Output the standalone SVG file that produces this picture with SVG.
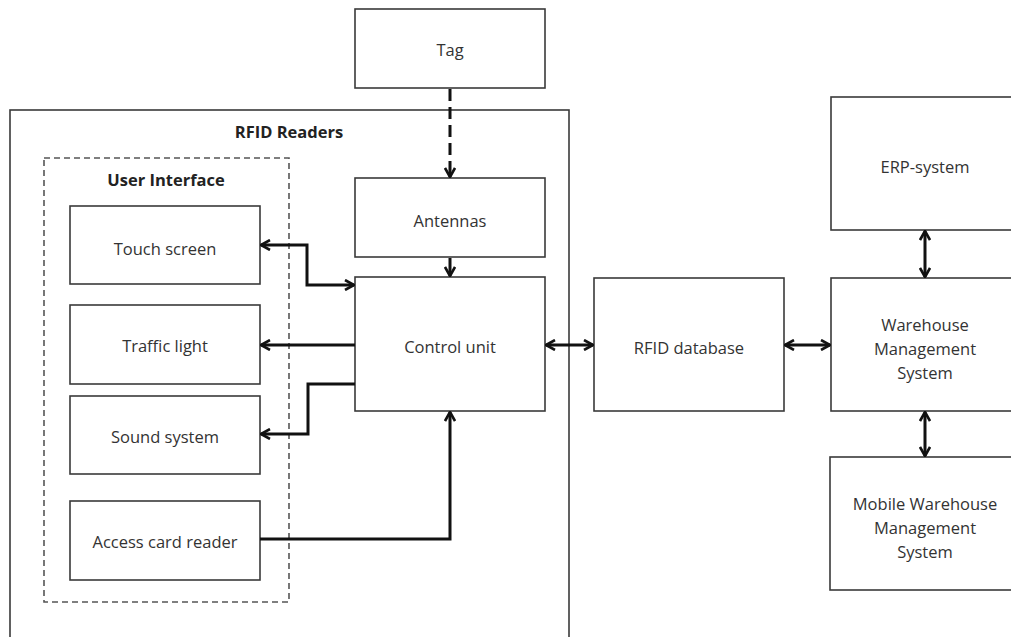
<svg xmlns="http://www.w3.org/2000/svg" width="1011" height="637" viewBox="0 0 1011 637">
  <style>
    .box { fill: #fff; stroke: #3a3a3a; stroke-width: 1.6; }
    .frame { fill: none; stroke: #3a3a3a; stroke-width: 1.6; }
    .dash { fill: none; stroke: #555; stroke-width: 1.6; stroke-dasharray: 6 4; }
    .lbl { font-family: "Open Sans", "Liberation Sans", sans-serif; font-size: 16.5px; fill: #333; text-anchor: middle; dominant-baseline: central; }
    .title { font-family: "Open Sans", "Liberation Sans", sans-serif; font-size: 16.5px; font-weight: bold; fill: #222; text-anchor: middle; dominant-baseline: central; }
    .wire { fill: none; stroke: #111; stroke-width: 3; stroke-linejoin: miter; }
    .wire-d { fill: none; stroke: #111; stroke-width: 3; stroke-dasharray: 12 6; }
  </style>
  <defs>
    <marker id="head" viewBox="0 0 12 12" refX="11" refY="6" markerWidth="12" markerHeight="12" markerUnits="userSpaceOnUse" orient="auto-start-reverse">
      <path d="M2,1 L11,6 L2,11" fill="none" stroke="#111" stroke-width="2.6"/>
    </marker>
  </defs>

  <rect width="1011" height="637" fill="#fff"/>

  <!-- RFID reader enclosure -->
  <g id="rfid-readers">
    <rect class="frame" x="10" y="110" width="559" height="560"/>
    <text class="title" x="289" y="131">RFID Readers</text>
  </g>

  <!-- user interface group -->
  <g id="user-interface">
    <rect class="dash" x="44" y="158" width="245" height="444"/>
    <text class="title" x="166" y="179">User Interface</text>
  </g>

  <g id="tag">
    <rect class="box" x="355" y="9" width="190" height="79"/>
    <text class="lbl" x="450" y="49">Tag</text>
  </g>
  <g id="antennas">
    <rect class="box" x="355" y="178" width="190" height="79"/>
    <text class="lbl" x="450" y="220">Antennas</text>
  </g>
  <g id="control-unit">
    <rect class="box" x="355" y="277" width="190" height="134"/>
    <text class="lbl" x="450" y="346">Control unit</text>
  </g>
  <g id="touch-screen">
    <rect class="box" x="70" y="206" width="190" height="78"/>
    <text class="lbl" x="165" y="248">Touch screen</text>
  </g>
  <g id="traffic-light">
    <rect class="box" x="70" y="305" width="190" height="79"/>
    <text class="lbl" x="165" y="345">Traffic light</text>
  </g>
  <g id="sound-system">
    <rect class="box" x="70" y="396" width="190" height="78"/>
    <text class="lbl" x="165" y="436">Sound system</text>
  </g>
  <g id="access-card-reader">
    <rect class="box" x="70" y="501" width="190" height="79"/>
    <text class="lbl" x="165" y="541">Access card reader</text>
  </g>
  <g id="rfid-database">
    <rect class="box" x="594" y="278" width="190" height="133"/>
    <text class="lbl" x="689" y="347">RFID database</text>
  </g>
  <g id="erp-system">
    <rect class="box" x="831" y="97" width="200" height="133"/>
    <text class="lbl" x="925" y="166">ERP-system</text>
  </g>
  <g id="wms">
    <rect class="box" x="831" y="278" width="200" height="133"/>
    <text class="lbl" x="925" y="324">Warehouse</text>
    <text class="lbl" x="925" y="348">Management</text>
    <text class="lbl" x="925" y="372">System</text>
  </g>
  <g id="mobile-wms">
    <rect class="box" x="830" y="457" width="200" height="133"/>
    <text class="lbl" x="925" y="503">Mobile Warehouse</text>
    <text class="lbl" x="925" y="527">Management</text>
    <text class="lbl" x="925" y="551">System</text>
  </g>

  <!-- connectors -->
  <g id="connectors">
    <path class="wire-d" d="M450,89 L450,170" />
    <path class="wire" d="M450,170 L450,177" marker-end="url(#head)"/>
    <path class="wire" d="M450,258 L450,276" marker-end="url(#head)"/>
    <path class="wire" d="M261,245 L307,245 L307,285 L354,285" marker-start="url(#head)" marker-end="url(#head)"/>
    <path class="wire" d="M355,345 L261,345" marker-end="url(#head)"/>
    <path class="wire" d="M355,384 L308,384 L308,434 L261,434" marker-end="url(#head)"/>
    <path class="wire" d="M260,539 L450,539 L450,412" marker-end="url(#head)"/>
    <path class="wire" d="M546,345 L593,345" marker-start="url(#head)" marker-end="url(#head)"/>
    <path class="wire" d="M785,345 L830,345" marker-start="url(#head)" marker-end="url(#head)"/>
    <path class="wire" d="M925,231 L925,277" marker-start="url(#head)" marker-end="url(#head)"/>
    <path class="wire" d="M925,412 L925,456" marker-start="url(#head)" marker-end="url(#head)"/>
  </g>
</svg>
